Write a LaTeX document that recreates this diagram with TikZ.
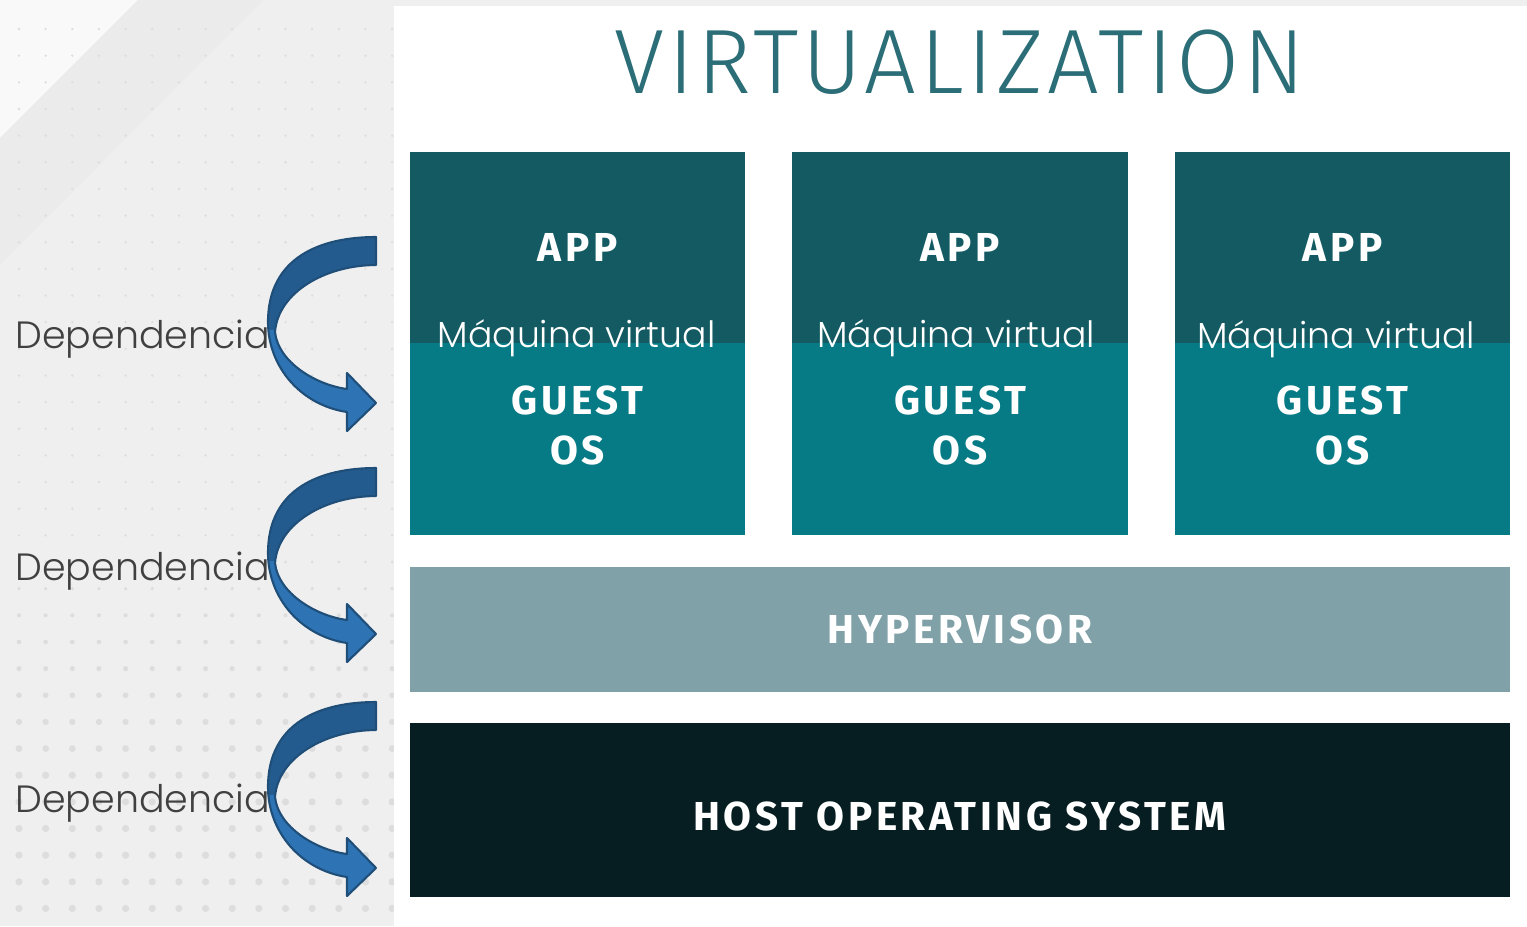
\documentclass[tikz,border=0pt]{standalone}
\usepackage{fontspec}
\usepackage{xcolor}
\usetikzlibrary{positioning}
\IfFontExistsTF{Poppins Light}{\newfontfamily\gothicfont{Poppins Light}}{\newfontfamily\gothicfont{Poppins}}
\IfFontExistsTF{Fira Sans Light}{\newfontfamily\thinfont[LetterSpace=4]{Fira Sans Light}}{\newfontfamily\thinfont[LetterSpace=4]{Fira Sans}}
\newfontfamily\heavyfont[LetterSpace=9]{Fira Sans}
\definecolor{apptop}{HTML}{135A62}
\definecolor{guestbot}{HTML}{077B85}
\definecolor{hypergray}{HTML}{80A1A8}
\definecolor{hostdark}{HTML}{061D21}
\definecolor{titleteal}{HTML}{2B6E77}
\definecolor{arrowdark}{HTML}{245B8E}
\definecolor{arrowlight}{HTML}{2E74B5}
\definecolor{arrowedge}{HTML}{1F4E79}
\definecolor{deptext}{HTML}{404040}
\definecolor{slidegray}{HTML}{EFEFEF}
\definecolor{dotgray}{HTML}{DDDDDD}
\newcommand{\deppath}{(0,0) .. controls (-55,0) and (-108,20) .. (-108,85)
  .. controls (-108,130) and (-75,168) .. (-29,175)
  -- (-29,194) -- (0,166) -- (-29,136) -- (-29,152)
  .. controls (-60,148) and (-98,125) .. (-101,95)
  .. controls (-98,55) and (-50,28) .. (0,28) -- cycle}
\tikzset{
  every picture/.style={line width=0.75pt},
  layer/.style={inner sep=0pt, text=white, font=\heavyfont\bfseries\fontsize{11.5}{13}\selectfont},
  labeltext/.style={text=white, inner sep=0pt, font=\heavyfont\bfseries\fontsize{11.5}{14}\selectfont, align=center},
  vmtext/.style={text=white, inner sep=0pt, font=\gothicfont\fontsize{10.3}{12}\selectfont},
  deptext/.style={text=deptext, inner sep=0pt, font=\gothicfont\fontsize{10.8}{13}\selectfont},
  pics/deparrow/.style={code={
    \fill[arrowlight] \deppath;
    \begin{scope}
      \clip (-120,-5) rectangle (5,92);
      \fill[arrowdark] \deppath;
    \end{scope}
    \draw[arrowedge, line width=0.6pt, line join=round] \deppath;
  }}
}

\begin{document}
\begin{tikzpicture}[x=0.01cm, y=-0.01cm]
\useasboundingbox (0,0) rectangle (1527,926);
% slide background
\fill[slidegray] (0,0) rectangle (1527,926);
\fill[white!60!slidegray] (0,0) -- (138,0) -- (0,138) -- cycle;
\fill[black!8] (138,0) -- (263,0) -- (0,265) -- (0,138) -- cycle;
\foreach \i in {0,...,14}{
  \foreach \j in {0,...,33}{
    \pgfmathsetmacro\dx{19+26.65*\i}
    \pgfmathsetmacro\dy{29+26.65*\j}
    \pgfmathsetmacro\dr{max(1.3,min(3.6,1.3+(\dy-540)/100))}
    \fill[dotgray] (\dx,\dy) circle[radius=\dr];
  }
}
\fill[white] (394,6) rectangle (1527,926);
%
\node (title) at (960,62) {\color{titleteal}\thinfont\fontsize{26}{30}\selectfont VIRTUALIZATION};
%
\foreach \n/\x in {1/577.5, 2/960, 3/1342.5}{
  \node (app\n) [layer, fill=apptop, minimum width=3.35cm, minimum height=1.91cm] at (\x,247.5) {APP};
  \node (guest\n) [layer, fill=guestbot, minimum width=3.35cm, minimum height=1.92cm] at (\x,439) {};
  \node (gos\n) [labeltext, anchor=base] at (\x,464) {GUEST\\OS};
}
\node (vm1) [vmtext, anchor=base] at (576.5,347) {Máquina virtual};
\node (vm2) [vmtext, anchor=base] at (956,347) {Máquina virtual};
\node (vm3) [vmtext, anchor=base] at (1336,348) {Máquina virtual};
%
\node (hyper) [layer, fill=hypergray, minimum width=11cm, minimum height=1.25cm] at (960,629.5) {HYPERVISOR};
\node (host) [layer, fill=hostdark, minimum width=11cm, minimum height=1.74cm] at (960,810) {};
\node (hosttext) [labeltext, anchor=base] at (960,830) {HOST OPERATING SYSTEM};
%
\node (dep1) [deptext, anchor=base west] at (14,348) {Dependencia};
\node (dep2) [deptext, anchor=base west] at (14,580) {Dependencia};
\node (dep3) [deptext, anchor=base west] at (14,812) {Dependencia};
\pic at (376,237) {deparrow};
\pic at (376,468) {deparrow};
\pic at (376,702) {deparrow};
\end{tikzpicture}
\end{document}
